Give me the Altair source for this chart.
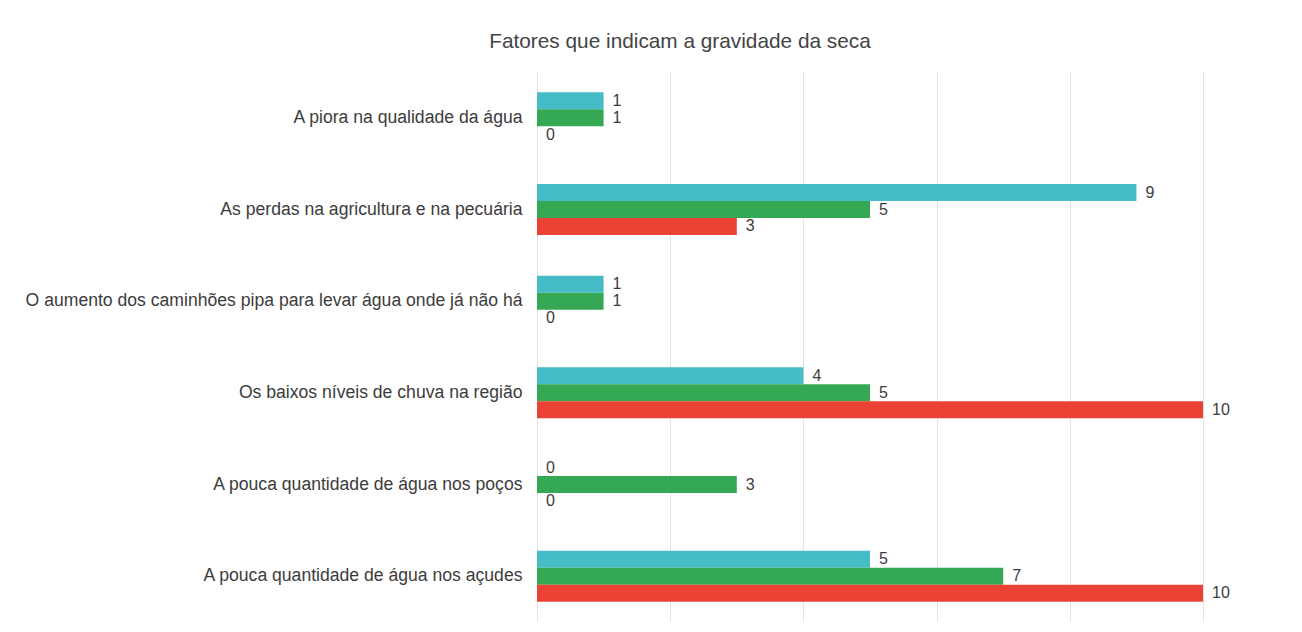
import altair as alt
import pandas as pd

categories = [
    "A piora na qualidade da água",
    "As perdas na agricultura e na pecuária",
    "O aumento dos caminhões pipa para levar água onde já não há",
    "Os baixos níveis de chuva na região",
    "A pouca quantidade de água nos poços",
    "A pouca quantidade de água nos açudes",
]
series_names = ["Série 1", "Série 2", "Série 3"]
series_colors = ["#46bdc6", "#34a853", "#ea4335"]
serie1 = [1, 9, 1, 4, 0, 5]
serie2 = [1, 5, 1, 5, 3, 7]
serie3 = [0, 3, 0, 10, 0, 10]
title_text = "Fatores que indicam a gravidade da seca"

rows = []
for name, vals in zip(series_names, [serie1, serie2, serie3]):
    for cat, v in zip(categories, vals):
        rows.append({"categoria": cat, "serie": name, "valor": v})
df = pd.DataFrame(rows)

FONT = "Liberation Sans"

y_enc = alt.Y(
    "categoria:N",
    sort=categories,
    scale=alt.Scale(paddingInner=0.444, paddingOuter=0.222),
    axis=alt.Axis(
        title=None, ticks=False, domain=False, grid=False,
        labelPadding=15, labelLimit=0, labelFontSize=17.6,
        labelColor="#3c3c3c", labelFont=FONT,
    ),
)
yoff_enc = alt.YOffset(
    "serie:N", sort=series_names,
    scale=alt.Scale(paddingInner=0, paddingOuter=0),
)
x_enc = alt.X(
    "valor:Q",
    scale=alt.Scale(domain=[0, 10], nice=False),
    axis=alt.Axis(
        title=None, labels=False, ticks=False, domain=False,
        grid=True, gridColor="#e3e3e3", values=[0, 2, 4, 6, 8, 10],
    ),
)

base = alt.Chart(df)

bars = base.mark_bar().encode(
    x=x_enc,
    y=y_enc,
    yOffset=yoff_enc,
    color=alt.Color(
        "serie:N", sort=series_names,
        scale=alt.Scale(domain=series_names, range=series_colors),
        legend=None,
    ),
)

labels = base.mark_text(
    align="left", baseline="middle", dx=9, fontSize=16, font=FONT, color="#3c3c3c"
).encode(
    x=alt.X("valor:Q"),
    y=alt.Y("categoria:N", sort=categories),
    yOffset=alt.YOffset("serie:N", sort=series_names),
    text=alt.Text("valor:Q"),
)

chart = (
    alt.layer(bars, labels)
    .properties(
        width=666,
        height=550,
        title=alt.TitleParams(
            title_text, fontSize=20.8, font=FONT, color="#444444",
            fontWeight="normal", anchor="middle", dx=-190, offset=19,
        ),
        autosize=alt.AutoSizeParams(type="none"),
        padding={"left": 529, "top": 64, "right": 80, "bottom": 0},
        background="white",
    )
    .configure_view(stroke=None)
)

chart.save("out.html", embed_options={"renderer": "svg", "actions": False})
